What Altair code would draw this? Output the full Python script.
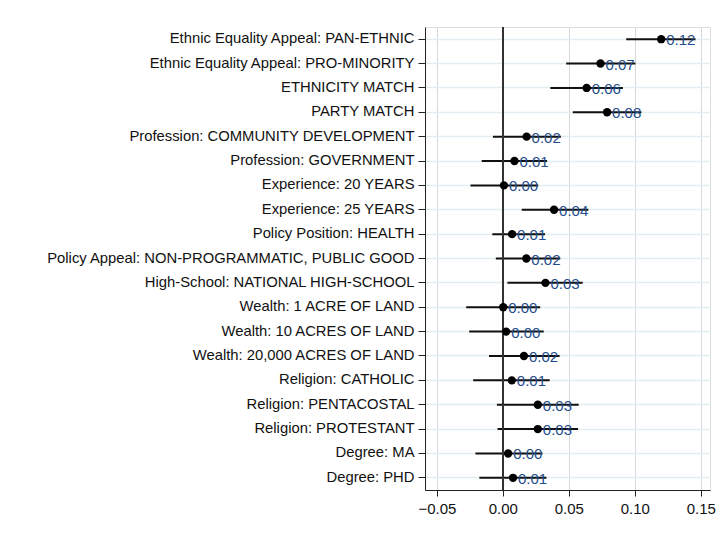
import altair as alt
import pandas as pd

terms = [
    "Ethnic Equality Appeal: PAN-ETHNIC",
    "Ethnic Equality Appeal: PRO-MINORITY",
    "ETHNICITY MATCH",
    "PARTY MATCH",
    "Profession: COMMUNITY DEVELOPMENT",
    "Profession: GOVERNMENT",
    "Experience: 20 YEARS",
    "Experience: 25 YEARS",
    "Policy Position: HEALTH",
    "Policy Appeal: NON-PROGRAMMATIC, PUBLIC GOOD",
    "High-School: NATIONAL HIGH-SCHOOL",
    "Wealth: 1 ACRE OF LAND",
    "Wealth: 10 ACRES OF LAND",
    "Wealth: 20,000 ACRES OF LAND",
    "Religion: CATHOLIC",
    "Religion: PENTACOSTAL",
    "Religion: PROTESTANT",
    "Degree: MA",
    "Degree: PHD",
]
estimate = [0.120, 0.074, 0.0635, 0.079, 0.018, 0.0088, 0.0008, 0.0388, 0.0070,
            0.0178, 0.0323, 0.0003, 0.0025, 0.016, 0.0068, 0.0265, 0.0265, 0.004, 0.0077]
ci_low = [0.0935, 0.048, 0.036, 0.053, -0.0075, -0.016, -0.0245, 0.0143, -0.008,
          -0.0053, 0.0035, -0.0278, -0.0255, -0.0105, -0.0225, -0.0045, -0.004, -0.0208, -0.0178]
ci_high = [0.146, 0.1005, 0.091, 0.105, 0.044, 0.0335, 0.0268, 0.0648, 0.032,
           0.0435, 0.0605, 0.0283, 0.031, 0.043, 0.0355, 0.0575, 0.057, 0.030, 0.033]
labels = ["0.12", "0.07", "0.06", "0.08", "0.02", "0.01", "0.00", "0.04", "0.01",
          "0.02", "0.03", "0.00", "0.00", "0.02", "0.01", "0.03", "0.03", "0.00", "0.01"]
x_ticks = [-0.05, 0.0, 0.05, 0.10, 0.15]

df = pd.DataFrame({"term": terms, "est": estimate, "lo": ci_low, "hi": ci_high, "lab": labels})

FONT = "Liberation Sans"

xscale = alt.Scale(domain=[-0.059, 0.157], nice=False, zero=False)
yenc = alt.Y("term:N", sort=terms, title=None,
             axis=alt.Axis(labelFontSize=14.8, labelColor="#111111", labelFont=FONT,
                           domainColor="#222222", tickColor="#222222", tickSize=7,
                           labelPadding=4, grid=True, gridColor="#E3EDF1", gridWidth=1.5,
                           labelLimit=500))

base = alt.Chart(df)

grid_zero = base.mark_rule(color="#333333", strokeWidth=1.3).encode(
    x=alt.datum(0, scale=xscale)
)

ci = base.mark_rule(color="#111111", strokeWidth=2).encode(
    x=alt.X("lo:Q", scale=xscale, title=None,
            axis=alt.Axis(values=x_ticks, format=".2f", labelFontSize=15, labelFont=FONT,
                          labelColor="#111111", domainColor="#222222", tickColor="#222222",
                          tickSize=6, labelPadding=5, gridColor="#D6D9DC", gridWidth=1)),
    x2="hi:Q",
    y=yenc,
)

pts = base.mark_point(filled=True, color="#000000", size=70, opacity=1).encode(
    x=alt.X("est:Q", scale=xscale),
    y=alt.Y("term:N", sort=terms),
)

txt = base.mark_text(align="left", baseline="middle", dx=5, dy=1, fontSize=15,
                     font=FONT, color="#1F4E8C").encode(
    x=alt.X("est:Q", scale=xscale),
    y=alt.Y("term:N", sort=terms),
    text="lab:N",
)

chart = alt.layer(ci, grid_zero, pts, txt).properties(
    width=285, height=463,
    autosize=alt.AutoSizeParams(type="none"),
    padding={"left": 417, "top": 19, "right": 6, "bottom": 30},
).configure_view(stroke=None).configure(background="white")

chart.save("out.html", embed_options={"renderer": "svg", "actions": False})
